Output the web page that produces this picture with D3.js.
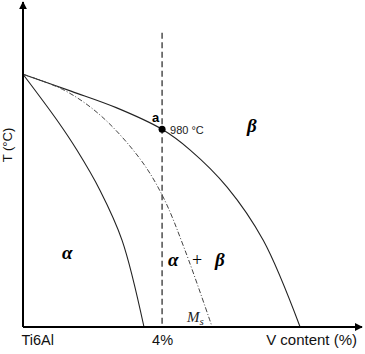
<!DOCTYPE html>
<html>
<head>
<meta charset="utf-8">
<script src="https://cdn.jsdelivr.net/npm/d3@7"></script>
<style>
  html, body { margin: 0; padding: 0; background: #fff; }
  svg { display: block; font-family: "Liberation Sans", Arial, sans-serif; }
  .greek { font-family: "Liberation Serif", "Times New Roman", serif; font-style: italic; font-weight: bold; }
</style>
</head>
<body>
<div id="chart"></div>
<script>
// --- Data (V content %, temperature °C) ---
const betaTransusV = [0, 1.4, 2.68, 4.0, 4.81, 5.87, 6.91, 7.97];
const betaTransusT = [1040, 1021, 1003, 979, 956, 915, 856, 760];

const alphaBoundV = [0, 0.98, 1.55, 2.22, 2.85, 3.48];
const alphaBoundT = [1040, 989, 956, 911, 856, 760];

const msLineV = [0, 1.2, 2.24, 3.37, 4.03, 4.66, 5.44];
const msLineT = [1040, 1022, 994, 946, 904, 845, 760];

const alloyV = 4;          // dashed composition line
const alloyTop = 1086;
const pointA = { v: 4, t: 979, label: "a", note: "980 °C" };

const xTickValues = [0, 4];
const xTickLabels = ["Ti6Al", "4%"];

// --- Layout ---
const W = 365, H = 354;
const x = d3.scaleLinear().domain([0, 9.75]).range([23, 362]);
const y = d3.scaleLinear().domain([760, 1120]).range([327, 2]);

const svg = d3.select('#chart').append('svg').attr('width', W).attr('height', H);

const defs = svg.append('defs');
defs.append('marker')
  .attr('id', 'arrow')
  .attr('viewBox', '0 0 10 10')
  .attr('refX', 9).attr('refY', 5)
  .attr('markerWidth', 4).attr('markerHeight', 4)
  .attr('orient', 'auto')
  .append('path').attr('d', 'M0,0 L10,5 L0,10 z').attr('fill', '#000');

const zip = (xs, ys) => xs.map((v, i) => [v, ys[i]]);
const line = d3.line().x(d => x(d[0])).y(d => y(d[1])).curve(d3.curveCatmullRom.alpha(0.5));

// dashed 4% line
svg.append('line')
  .attr('x1', x(alloyV)).attr('x2', x(alloyV))
  .attr('y1', y(alloyTop)).attr('y2', y(760))
  .attr('stroke', '#222').attr('stroke-width', 1.2)
  .attr('stroke-dasharray', '6,3.5');

// curves
svg.append('path').attr('d', line(zip(betaTransusV, betaTransusT)))
  .attr('fill', 'none').attr('stroke', '#222').attr('stroke-width', 1.1);
svg.append('path').attr('d', line(zip(alphaBoundV, alphaBoundT)))
  .attr('fill', 'none').attr('stroke', '#222').attr('stroke-width', 1.1);
svg.append('path').attr('d', line(zip(msLineV, msLineT)))
  .attr('fill', 'none').attr('stroke', '#444').attr('stroke-width', 1)
  .attr('stroke-dasharray', '5,2,1,2');

// axes with arrows
svg.append('line')
  .attr('x1', x(0)).attr('y1', y(760)).attr('x2', x(0)).attr('y2', y(1120))
  .attr('stroke', '#000').attr('stroke-width', 2).attr('marker-end', 'url(#arrow)');
svg.append('line')
  .attr('x1', x(0)).attr('y1', y(760)).attr('x2', x(9.75)).attr('y2', y(760))
  .attr('stroke', '#000').attr('stroke-width', 2).attr('marker-end', 'url(#arrow)');

// tick labels via axis
const xAxis = d3.axisBottom(x).tickValues(xTickValues).tickSize(0)
  .tickFormat((d, i) => xTickLabels[i]);
const gx = svg.append('g').attr('transform', `translate(0,${y(760)})`).call(xAxis);
gx.select('.domain').remove();
gx.selectAll('text')
  .attr('font-family', '"Liberation Sans", Arial, sans-serif')
  .attr('font-size', 14.5).attr('fill', '#111').attr('dy', '1.0em')
  .attr('text-anchor', (d, i) => i === 0 ? 'start' : 'middle')
  .attr('x', (d, i) => i === 0 ? -2 : 0);

svg.append('text').attr('x', 357).attr('y', 345)
  .attr('text-anchor', 'end').attr('font-size', 15).attr('fill', '#111')
  .text('V content (%)');

svg.append('text')
  .attr('transform', `translate(12,145) rotate(-90)`)
  .attr('text-anchor', 'middle').attr('font-size', 13).attr('fill', '#111')
  .text('T (°C)');

// point a
svg.append('circle').attr('cx', x(pointA.v)).attr('cy', y(pointA.t)).attr('r', 3.5).attr('fill', '#000');
svg.append('text').attr('x', x(pointA.v) - 10).attr('y', y(pointA.t) - 7)
  .attr('font-size', 13).attr('font-weight', 'bold').text(pointA.label);
svg.append('text').attr('x', x(pointA.v) + 8).attr('y', y(pointA.t) + 5)
  .attr('font-size', 11).attr('fill', '#222').text(pointA.note);

// phase labels
const greek = (px, py, t) => svg.append('text').attr('class', 'greek')
  .attr('x', px).attr('y', py).attr('font-size', 19).text(t);
greek(247, 132, 'β');
greek(62, 259, 'α');
greek(168, 266, 'α');
svg.append('text').attr('x', 192).attr('y', 266).attr('font-size', 18)
  .attr('font-family', '"Liberation Serif", serif').text('+');
greek(215, 266, 'β');

// Ms
const ms = svg.append('text').attr('x', 187).attr('y', 322)
  .attr('font-family', '"Liberation Serif", serif').attr('font-style', 'italic')
  .attr('font-size', 15).attr('fill', '#222');
ms.append('tspan').text('M');
ms.append('tspan').attr('font-size', 11).attr('dy', 3).text('s');
</script>
</body>
</html>
